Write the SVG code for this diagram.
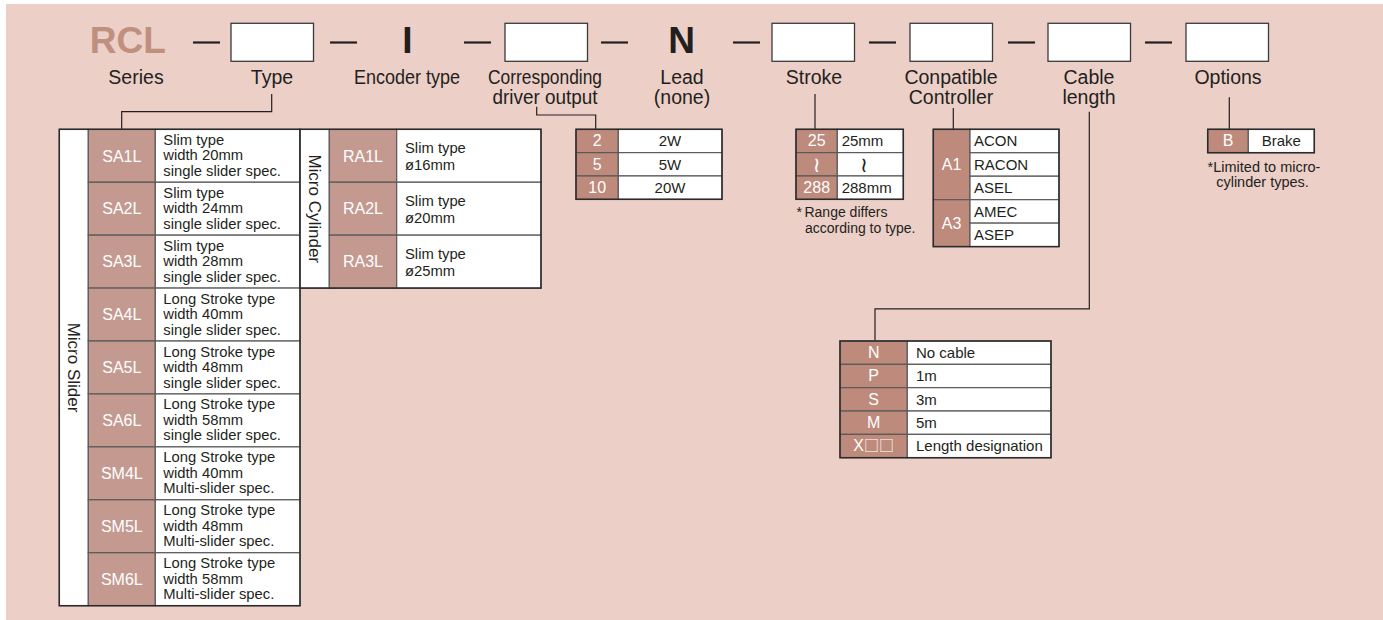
<svg xmlns="http://www.w3.org/2000/svg" width="1383" height="620" viewBox="0 0 1383 620">
<style>
.bg{fill:#eccfc7}
text{font-family:"Liberation Sans",Arial,"DejaVu Sans",sans-serif;fill:#231f20}
.big{font-weight:bold;font-size:37px}
.lbl{font-size:19.5px;text-anchor:middle}
.box{fill:#fff;stroke:#3b3b3b;stroke-width:1.3}
.dash{stroke:#231f20;stroke-width:2.2}
.conn{fill:none;stroke:#231f20;stroke-width:1.2}
.cw{fill:#fff;stroke:#5a5a5a;stroke-width:1.2}
.cc{fill:#be8a7b;stroke:#5a5a5a;stroke-width:1.2}
.cs{fill:#c49a90;stroke:#5a5a5a;stroke-width:1.2}
.out{fill:none;stroke:#2b2b2b;stroke-width:1.5}
.ct{font-size:16px;fill:#fff;text-anchor:middle}
.vt{font-size:15px}
.vm{font-size:15px;text-anchor:middle}
.ds{font-size:14.8px}
.side{font-size:17px;text-anchor:middle}
.note{font-size:14px}
.noteC{font-size:14.5px;text-anchor:middle}
.sq{font-family:"Noto Sans CJK JP","DejaVu Sans",sans-serif;font-size:15px}
.to{font-family:"DejaVu Sans",sans-serif;font-size:21px}
</style>
<rect class="bg" x="6" y="4" width="1377" height="616"/>

<g id="header">
  <text class="big" x="89.7" y="53" style="fill:#c0907f">RCL</text>
  <line class="dash" x1="193" y1="42.5" x2="220" y2="42.5"/>
  <rect class="box" x="231" y="23.3" width="82.5" height="38"/>
  <line class="dash" x1="330" y1="42.5" x2="357" y2="42.5"/>
  <text class="big" x="407.5" y="53" text-anchor="middle">I</text>
  <line class="dash" x1="464" y1="42.5" x2="491" y2="42.5"/>
  <rect class="box" x="505" y="23.3" width="82.5" height="38"/>
  <line class="dash" x1="601" y1="42.5" x2="628" y2="42.5"/>
  <text class="big" x="681.5" y="53" text-anchor="middle">N</text>
  <line class="dash" x1="733" y1="42.5" x2="760" y2="42.5"/>
  <rect class="box" x="772" y="23.3" width="82.5" height="38"/>
  <line class="dash" x1="869" y1="42.5" x2="896" y2="42.5"/>
  <rect class="box" x="910" y="23.3" width="82.5" height="38"/>
  <line class="dash" x1="1008" y1="42.5" x2="1035" y2="42.5"/>
  <rect class="box" x="1048" y="23.3" width="82.5" height="38"/>
  <line class="dash" x1="1145" y1="42.5" x2="1172" y2="42.5"/>
  <rect class="box" x="1186" y="23.3" width="82.5" height="38"/>
</g>

<g id="labels">
  <text class="lbl" x="136" y="84">Series</text>
  <text class="lbl" x="272" y="84">Type</text>
  <text class="lbl" x="407" y="84" textLength="106" lengthAdjust="spacingAndGlyphs">Encoder type</text>
  <text class="lbl" x="545" y="84" textLength="114" lengthAdjust="spacingAndGlyphs">Corresponding</text>
  <text class="lbl" x="545" y="104" textLength="105" lengthAdjust="spacingAndGlyphs">driver output</text>
  <text class="lbl" x="682" y="84">Lead</text>
  <text class="lbl" x="682" y="104">(none)</text>
  <text class="lbl" x="814" y="84">Stroke</text>
  <text class="lbl" x="951" y="84">Conpatible</text>
  <text class="lbl" x="951" y="104">Controller</text>
  <text class="lbl" x="1089" y="84">Cable</text>
  <text class="lbl" x="1089" y="104">length</text>
  <text class="lbl" x="1228" y="84">Options</text>
</g>

<g id="connectors">
  <path class="conn" d="M271.7,94 V111.7 H121.7 V129.3"/>
  <path class="conn" d="M536.7,106.7 V115 H595.7 V129.3"/>
  <path class="conn" d="M815,94 V129.3"/>
  <path class="conn" d="M953.3,108 V129.3"/>
  <path class="conn" d="M1089.3,111.7 V308.8 H875 V341"/>
  <path class="conn" d="M1229.3,97.3 V129.3"/>
</g>

<g id="micro-slider">
  <rect class="cw" x="59.3" y="129.3" width="29" height="476.4"/>
  <text class="side" transform="translate(73.8,367.5) rotate(90)" x="0" y="6">Micro Slider</text>
  <rect class="cs" x="88.3" y="129.3" width="67" height="52.93"/>
  <rect class="cs" x="88.3" y="182.23" width="67" height="52.93"/>
  <rect class="cs" x="88.3" y="235.16" width="67" height="52.93"/>
  <rect class="cs" x="88.3" y="288.09" width="67" height="52.93"/>
  <rect class="cs" x="88.3" y="341.02" width="67" height="52.93"/>
  <rect class="cs" x="88.3" y="393.95" width="67" height="52.93"/>
  <rect class="cs" x="88.3" y="446.88" width="67" height="52.93"/>
  <rect class="cs" x="88.3" y="499.81" width="67" height="52.93"/>
  <rect class="cs" x="88.3" y="552.74" width="67" height="52.93"/>
  <rect class="cw" x="155.3" y="129.3" width="144.7" height="52.93"/>
  <rect class="cw" x="155.3" y="182.23" width="144.7" height="52.93"/>
  <rect class="cw" x="155.3" y="235.16" width="144.7" height="52.93"/>
  <rect class="cw" x="155.3" y="288.09" width="144.7" height="52.93"/>
  <rect class="cw" x="155.3" y="341.02" width="144.7" height="52.93"/>
  <rect class="cw" x="155.3" y="393.95" width="144.7" height="52.93"/>
  <rect class="cw" x="155.3" y="446.88" width="144.7" height="52.93"/>
  <rect class="cw" x="155.3" y="499.81" width="144.7" height="52.93"/>
  <rect class="cw" x="155.3" y="552.74" width="144.7" height="52.93"/>
  <rect class="out" x="59.3" y="129.3" width="240.7" height="476.4"/>
  <text class="ct" x="121.8" y="161.5">SA1L</text>
  <text class="ct" x="121.8" y="214.43">SA2L</text>
  <text class="ct" x="121.8" y="267.36">SA3L</text>
  <text class="ct" x="121.8" y="320.29">SA4L</text>
  <text class="ct" x="121.8" y="373.22">SA5L</text>
  <text class="ct" x="121.8" y="426.15">SA6L</text>
  <text class="ct" x="121.8" y="479.08">SM4L</text>
  <text class="ct" x="121.8" y="532.01">SM5L</text>
  <text class="ct" x="121.8" y="584.94">SM6L</text>
  <text class="ds" x="163.3" y="144.8">Slim type<tspan x="163.3" dy="15.5">width 20mm</tspan><tspan x="163.3" dy="15.5">single slider spec.</tspan></text>
  <text class="ds" x="163.3" y="197.73">Slim type<tspan x="163.3" dy="15.5">width 24mm</tspan><tspan x="163.3" dy="15.5">single slider spec.</tspan></text>
  <text class="ds" x="163.3" y="250.66">Slim type<tspan x="163.3" dy="15.5">width 28mm</tspan><tspan x="163.3" dy="15.5">single slider spec.</tspan></text>
  <text class="ds" x="163.3" y="303.59">Long Stroke type<tspan x="163.3" dy="15.5">width 40mm</tspan><tspan x="163.3" dy="15.5">single slider spec.</tspan></text>
  <text class="ds" x="163.3" y="356.52">Long Stroke type<tspan x="163.3" dy="15.5">width 48mm</tspan><tspan x="163.3" dy="15.5">single slider spec.</tspan></text>
  <text class="ds" x="163.3" y="409.45">Long Stroke type<tspan x="163.3" dy="15.5">width 58mm</tspan><tspan x="163.3" dy="15.5">single slider spec.</tspan></text>
  <text class="ds" x="163.3" y="462.38">Long Stroke type<tspan x="163.3" dy="15.5">width 40mm</tspan><tspan x="163.3" dy="15.5">Multi-slider spec.</tspan></text>
  <text class="ds" x="163.3" y="515.31">Long Stroke type<tspan x="163.3" dy="15.5">width 48mm</tspan><tspan x="163.3" dy="15.5">Multi-slider spec.</tspan></text>
  <text class="ds" x="163.3" y="568.24">Long Stroke type<tspan x="163.3" dy="15.5">width 58mm</tspan><tspan x="163.3" dy="15.5">Multi-slider spec.</tspan></text>
</g>

<g id="micro-cylinder">
  <rect class="cw" x="300" y="129.3" width="29.3" height="158.8"/>
  <text class="side" transform="translate(314.7,208.7) rotate(90)" x="0" y="6">Micro Cylinder</text>
  <rect class="cs" x="329.3" y="129.3" width="67.4" height="52.93"/>
  <rect class="cs" x="329.3" y="182.23" width="67.4" height="52.93"/>
  <rect class="cs" x="329.3" y="235.16" width="67.4" height="52.93"/>
  <rect class="cw" x="396.7" y="129.3" width="144.3" height="52.93"/>
  <rect class="cw" x="396.7" y="182.23" width="144.3" height="52.93"/>
  <rect class="cw" x="396.7" y="235.16" width="144.3" height="52.93"/>
  <rect class="out" x="300" y="129.3" width="241" height="158.8"/>
  <text class="ct" x="363" y="161.5">RA1L</text>
  <text class="ct" x="363" y="214.43">RA2L</text>
  <text class="ct" x="363" y="267.36">RA3L</text>
  <text class="ds" x="405" y="153.3">Slim type<tspan x="405" dy="16.5">ø16mm</tspan></text>
  <text class="ds" x="405" y="206.23">Slim type<tspan x="405" dy="16.5">ø20mm</tspan></text>
  <text class="ds" x="405" y="259.16">Slim type<tspan x="405" dy="16.5">ø25mm</tspan></text>
</g>

<g id="driver-output">
  <rect class="cc" x="576" y="129.3" width="42.3" height="23.33"/>
  <rect class="cc" x="576" y="152.63" width="42.3" height="23.33"/>
  <rect class="cc" x="576" y="175.96" width="42.3" height="23.34"/>
  <rect class="cw" x="618.3" y="129.3" width="103.7" height="23.33"/>
  <rect class="cw" x="618.3" y="152.63" width="103.7" height="23.33"/>
  <rect class="cw" x="618.3" y="175.96" width="103.7" height="23.34"/>
  <rect class="out" x="576" y="129.3" width="146" height="70"/>
  <text class="ct" x="597.2" y="146.3">2</text>
  <text class="ct" x="597.2" y="169.63">5</text>
  <text class="ct" x="597.2" y="192.96">10</text>
  <text class="vm" x="670" y="146.3">2W</text>
  <text class="vm" x="670" y="169.63">5W</text>
  <text class="vm" x="670" y="192.96">20W</text>
</g>

<g id="stroke">
  <rect class="cc" x="796" y="129.3" width="41.3" height="23.33"/>
  <rect class="cc" x="796" y="152.63" width="41.3" height="23.33"/>
  <rect class="cc" x="796" y="175.96" width="41.3" height="23.34"/>
  <rect class="cw" x="837.3" y="129.3" width="66" height="23.33"/>
  <rect class="cw" x="837.3" y="152.63" width="66" height="23.33"/>
  <rect class="cw" x="837.3" y="175.96" width="66" height="23.34"/>
  <rect class="out" x="796" y="129.3" width="107.3" height="70"/>
  <text class="ct" x="816.7" y="146.3">25</text>
  <text class="ct to" x="816.7" y="171.5">≀</text>
  <text class="ct" x="816.7" y="192.96">288</text>
  <text class="vt" x="841.7" y="146.3">25mm</text>
  <text class="vm to" x="864" y="171.5">≀</text>
  <text class="vt" x="841.7" y="192.96">288mm</text>
  <text class="note" x="796.5" y="217.3">*<tspan dx="2.5">Range differs</tspan></text>
  <text class="note" x="805" y="233.3">according to type.</text>
</g>

<g id="controller">
  <rect class="cc" x="933.3" y="129.3" width="36.7" height="70.38"/>
  <rect class="cc" x="933.3" y="199.68" width="36.7" height="46.92"/>
  <rect class="cw" x="970" y="129.3" width="89" height="23.46"/>
  <rect class="cw" x="970" y="152.76" width="89" height="23.46"/>
  <rect class="cw" x="970" y="176.22" width="89" height="23.46"/>
  <rect class="cw" x="970" y="199.68" width="89" height="23.46"/>
  <rect class="cw" x="970" y="223.14" width="89" height="23.46"/>
  <rect class="out" x="933.3" y="129.3" width="125.7" height="117.3"/>
  <text class="ct" x="951.6" y="170.2">A1</text>
  <text class="ct" x="951.6" y="228.8">A3</text>
  <text class="vt" x="974" y="146.3">ACON</text>
  <text class="vt" x="974" y="169.76">RACON</text>
  <text class="vt" x="974" y="193.22">ASEL</text>
  <text class="vt" x="974" y="216.68">AMEC</text>
  <text class="vt" x="974" y="240.14">ASEP</text>
</g>

<g id="cable-length">
  <rect class="cc" x="840" y="341" width="67.3" height="23.34"/>
  <rect class="cc" x="840" y="364.34" width="67.3" height="23.34"/>
  <rect class="cc" x="840" y="387.68" width="67.3" height="23.34"/>
  <rect class="cc" x="840" y="411.02" width="67.3" height="23.34"/>
  <rect class="cc" x="840" y="434.36" width="67.3" height="23.34"/>
  <rect class="cw" x="907.3" y="341" width="143.7" height="23.34"/>
  <rect class="cw" x="907.3" y="364.34" width="143.7" height="23.34"/>
  <rect class="cw" x="907.3" y="387.68" width="143.7" height="23.34"/>
  <rect class="cw" x="907.3" y="411.02" width="143.7" height="23.34"/>
  <rect class="cw" x="907.3" y="434.36" width="143.7" height="23.34"/>
  <rect class="out" x="840" y="341" width="211" height="116.7"/>
  <text class="ct" x="873.7" y="358">N</text>
  <text class="ct" x="873.7" y="381.34">P</text>
  <text class="ct" x="873.7" y="404.68">S</text>
  <text class="ct" x="873.7" y="428.02">M</text>
  <text class="ct" x="873.7" y="451.36">X<tspan class="sq">□□</tspan></text>
  <text class="vt" x="916" y="358">No cable</text>
  <text class="vt" x="916" y="381.34">1m</text>
  <text class="vt" x="916" y="404.68">3m</text>
  <text class="vt" x="916" y="428.02">5m</text>
  <text class="vt" x="916" y="451.36">Length designation</text>
</g>

<g id="options">
  <rect class="cc" x="1207.7" y="129.3" width="40.6" height="23.4"/>
  <rect class="cw" x="1248.3" y="129.3" width="66" height="23.4"/>
  <rect class="out" x="1207.7" y="129.3" width="106.6" height="23.4"/>
  <text class="ct" x="1228" y="146.3">B</text>
  <text class="vm" x="1281.3" y="146.3">Brake</text>
  <text class="noteC" x="1264" y="172">*Limited to micro-</text>
  <text class="noteC" x="1262.5" y="187">cylinder types.</text>
</g>
</svg>
